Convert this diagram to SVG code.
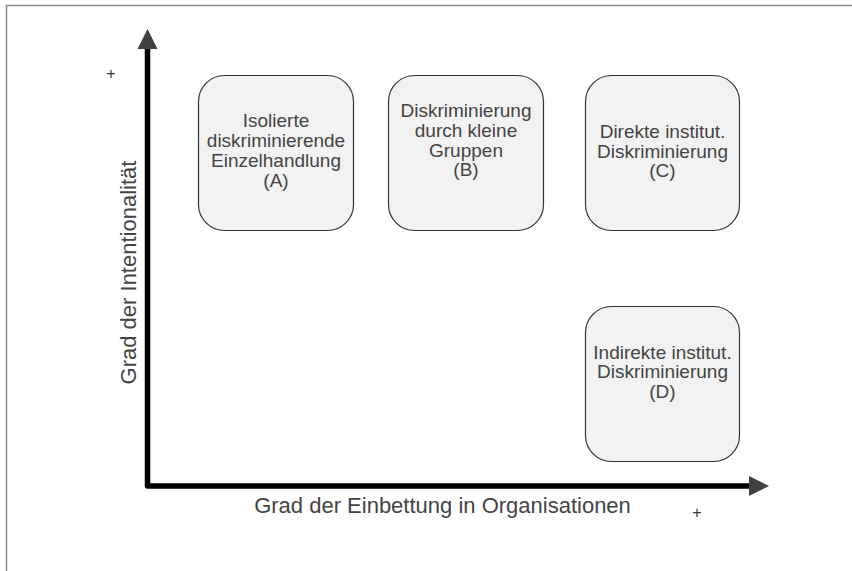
<svg xmlns="http://www.w3.org/2000/svg" width="852" height="571" viewBox="0 0 852 571">
<style>
text{font-family:"Liberation Sans",Arial,sans-serif;fill:#444;}
.box{fill:#f2f2f2;stroke:#333;stroke-width:1.2;}
.bt{font-size:19px;text-anchor:middle;}
.ax{font-size:22px;text-anchor:middle;}
.plus{font-size:16px;text-anchor:middle;fill:#333;}
</style>
<rect width="852" height="571" fill="#fff"/>
<path d="M6.5,571 L6.5,5.5 L852,5.5" fill="none" stroke="#8c8c8c" stroke-width="1.5"/>
<g id="connectors">
<path d="M147.5,48 L147.5,486 L750,486" fill="none" stroke="#000" stroke-width="5.5" stroke-linejoin="round"/>
<polygon points="137.5,49 147.5,29 157.5,49" fill="#404040"/>
<polygon points="749,476 769,486 749,496" fill="#404040"/>
</g>
<g id="axis-y-label"><text class="ax" transform="translate(136,272.5) rotate(-90)">Grad der Intentionalität</text></g>
<g id="axis-x-label"><text class="ax" x="442.5" y="513">Grad der Einbettung in Organisationen</text></g>
<g id="plus-y"><text class="plus" x="111" y="78.5">+</text></g>
<g id="plus-x"><text class="plus" x="697" y="517.5">+</text></g>
<g id="nodeA">
<rect class="box" x="198.5" y="75.5" width="155" height="155" rx="26"/>
<text class="bt" x="276" y="126.5">Isolierte</text>
<text class="bt" x="276" y="146.5">diskriminierende</text>
<text class="bt" x="276" y="166.5">Einzelhandlung</text>
<text class="bt" x="276" y="186.5">(A)</text>
</g>
<g id="nodeB">
<rect class="box" x="388.5" y="75.5" width="155" height="155" rx="26"/>
<text class="bt" x="466" y="116.5">Diskriminierung</text>
<text class="bt" x="466" y="136.5">durch kleine</text>
<text class="bt" x="466" y="156.5">Gruppen</text>
<text class="bt" x="466" y="176">(B)</text>
</g>
<g id="nodeC">
<rect class="box" x="585.5" y="75.5" width="154" height="155" rx="26"/>
<text class="bt" x="662.5" y="138">Direkte institut.</text>
<text class="bt" x="662.5" y="157.5">Diskriminierung</text>
<text class="bt" x="662.5" y="177">(C)</text>
</g>
<g id="nodeD">
<rect class="box" x="585.5" y="306.5" width="154" height="155" rx="26"/>
<text class="bt" x="662.5" y="358.5">Indirekte institut.</text>
<text class="bt" x="662.5" y="378">Diskriminierung</text>
<text class="bt" x="662.5" y="397.5">(D)</text>
</g>
</svg>
